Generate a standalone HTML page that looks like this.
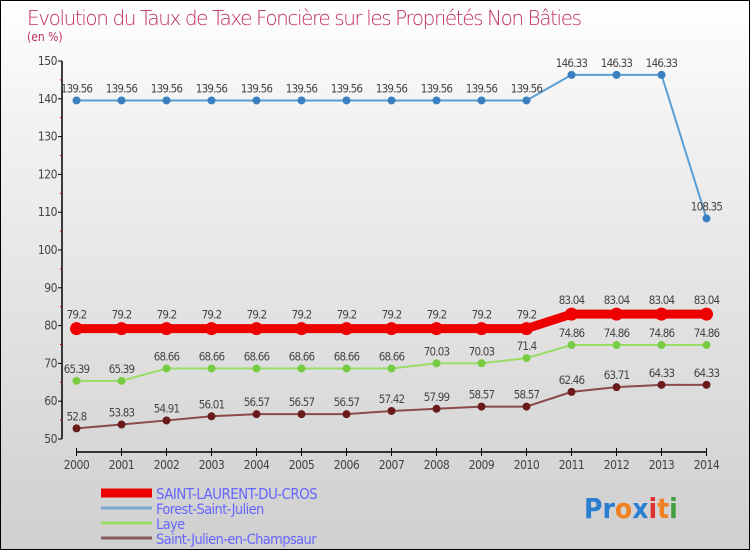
<!DOCTYPE html>
<html><head><meta charset="utf-8"><style>
body{margin:0}
#c{width:750px;height:550px;position:relative;box-sizing:border-box;border:1px solid #000;background:linear-gradient(#fff,#f3f3f3 20%,#cfcfcf);font-family:"DejaVu Sans Condensed","Liberation Sans",sans-serif;overflow:hidden}
</style></head><body>
<div id="c">
<svg id="s" width="750" height="550" style="position:absolute;left:0;top:0">
<text x="26" y="24" font-size="20" fill="#c0305a" style="font-family:'DejaVu Sans','Liberation Sans',sans-serif;font-weight:200" textLength="555">Evolution du Taux de Taxe Foncière sur les Propriétés Non Bâties</text>
<text x="26" y="40" font-size="12" fill="#c0305a">(en %)</text>
<g id="axes"></g><g id="series"></g><g id="legend"></g>
<text x="583" y="517" font-size="28" font-weight="bold"><tspan fill="#2a7fd0">Pr</tspan><tspan fill="#f08020">o</tspan><tspan fill="#2a7fd0">x</tspan><tspan fill="#e03030">i</tspan><tspan fill="#f08020">t</tspan><tspan fill="#40a040">i</tspan></text>
</svg>
</div>
<script>
const years=[2000,2001,2002,2003,2004,2005,2006,2007,2008,2009,2010,2011,2012,2013,2014];
const yTicks=[50,60,70,80,90,100,110,120,130,140,150];
const sNames=["SAINT-LAURENT-DU-CROS","Forest-Saint-Julien","Laye","Saint-Julien-en-Champsaur"];
const sSaint=[79.2,79.2,79.2,79.2,79.2,79.2,79.2,79.2,79.2,79.2,79.2,83.04,83.04,83.04,83.04];
const sForest=[139.56,139.56,139.56,139.56,139.56,139.56,139.56,139.56,139.56,139.56,139.56,146.33,146.33,146.33,108.35];
const sLaye=[65.39,65.39,68.66,68.66,68.66,68.66,68.66,68.66,70.03,70.03,71.4,74.86,74.86,74.86,74.86];
const sChamp=[52.8,53.83,54.91,56.01,56.57,56.57,56.57,57.42,57.99,58.57,58.57,62.46,63.71,64.33,64.33];
const NS="http://www.w3.org/2000/svg";
const X=i=>75.5+i*(705.5-75.5)/(years.length-1);
const Y=v=>60+(150-v)*3.78;
function mk(p,t,a){const e=document.createElementNS(NS,t);for(const k in a)e.setAttribute(k,a[k]);p.appendChild(e);return e;}
const ax=document.getElementById('axes');
let e=mk(ax,'line',{x1:61,y1:Y(150),x2:61,y2:Y(50),stroke:'#000','stroke-width':1.5});


e=mk(ax,'line',{x1:X(0),y1:451,x2:X(14),y2:451,stroke:'#000','stroke-width':1.5});


yTicks.forEach(v=>{mk(ax,'line',{x1:57,y1:Y(v),x2:61,y2:Y(v),stroke:'#000'});
if(v<150)mk(ax,'line',{x1:59,y1:Y(v+5),x2:61,y2:Y(v+5),stroke:'#c00'});
const t=mk(ax,'text',{x:56,y:Y(v)+4,'font-size':12,fill:'#444','text-anchor':'end','letter-spacing':'-0.5'});t.textContent=v;

});
years.forEach((y,i)=>{mk(ax,'line',{x1:X(i),y1:447,x2:X(i),y2:455,stroke:'#000'});
const t=mk(ax,'text',{x:X(i),y:468,'font-size':12,fill:'#444','text-anchor':'middle','letter-spacing':'-0.5'});t.textContent=y;

});
const sg=document.getElementById('series');
const defs=[[sForest,'#5a9fd4','#3a80c0',2,4],[sLaye,'#99dd66','#77cc44',2,4],[sChamp,'#8b4a4a','#6a1a1a',2,4],[sSaint,'#ee0000','#ee0000',9,6.5]];
const order=[1,2,3,0];
defs.forEach((d,k)=>{const [vals,lc,dc,w,r]=d;
const g=mk(sg,'g',{});


mk(g,'polyline',{points:vals.map((v,i)=>X(i)+','+Y(v)).join(' '),fill:'none',stroke:lc,'stroke-width':w});
vals.forEach((v,i)=>{const c=mk(g,'circle',{cx:X(i),cy:Y(v),r:r,fill:dc});


const t=mk(g,'text',{x:X(i),y:Y(v)-(w>5?10:8),'font-size':11.5,fill:'#444','text-anchor':'middle','letter-spacing':'-0.8'});t.textContent=v;

});});
const lg=document.getElementById('legend');
const lcol=['#ee0000','#7aa8d0','#99dd66','#8b5a5a'];const lw=[9,3,3,3];
sNames.forEach((n,i)=>{const y=490+i*15;
const g=mk(lg,'g',{});


mk(g,'line',{x1:100,y1:y+2,x2:151,y2:y+2,stroke:lcol[i],'stroke-width':lw[i]});
const t=mk(g,'text',{x:155,y:y+8,'font-size':i==0?15:14.5,fill:'#6666ff','letter-spacing':'-0.6'});t.textContent=n;});
</script>
</body></html>
